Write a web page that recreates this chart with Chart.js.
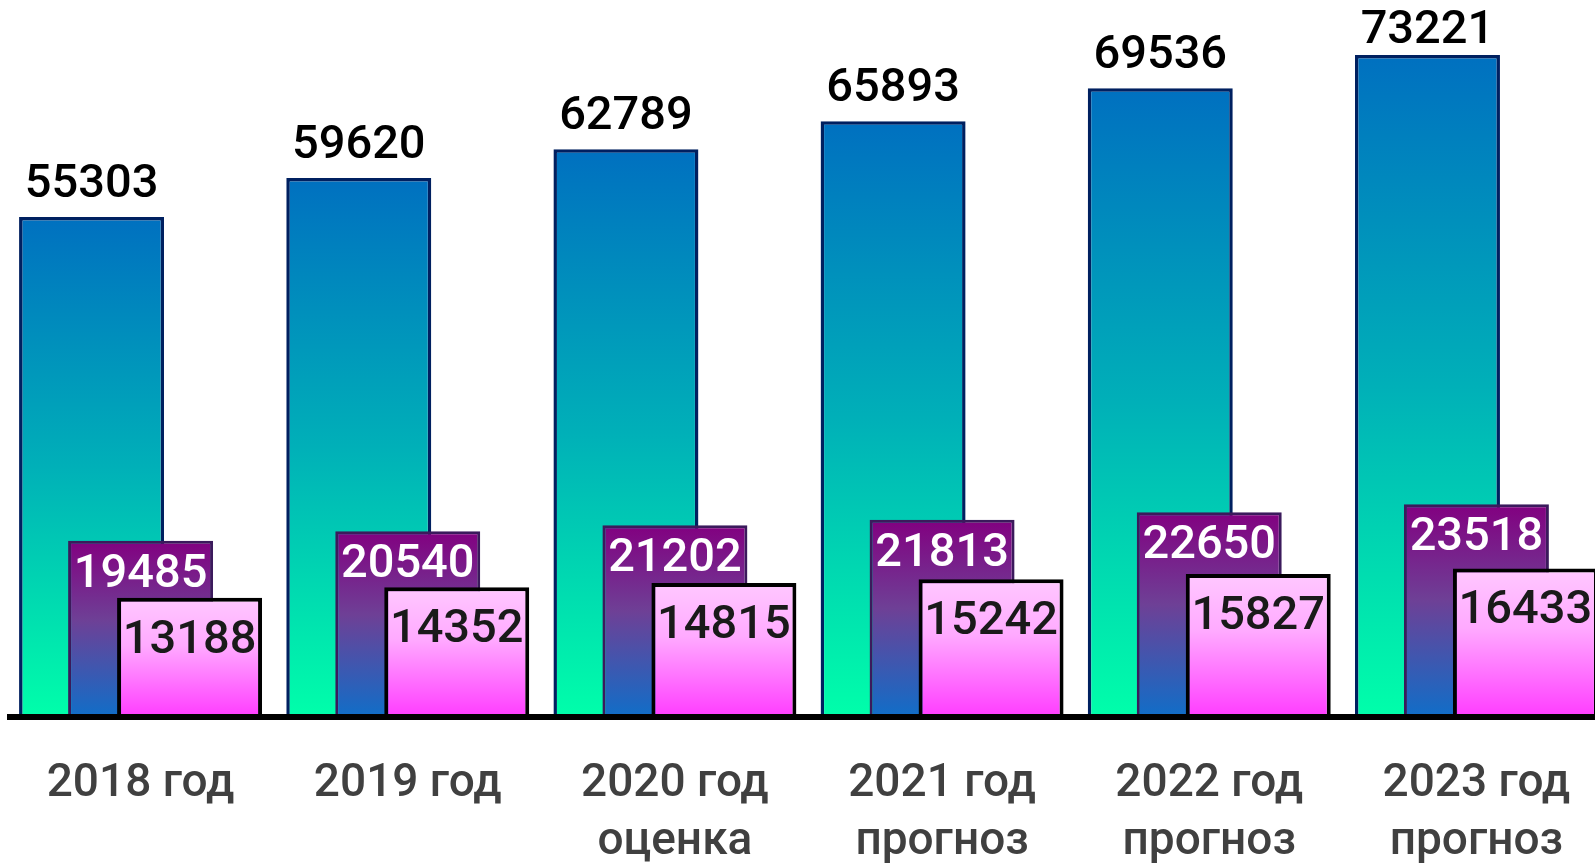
<!DOCTYPE html>
<html>
<head>
<meta charset="utf-8">
<script src="https://cdn.jsdelivr.net/npm/chart.js@4/dist/chart.umd.min.js"></script>
<style>
    html, body { margin: 0; padding: 0; background: #fff; overflow: hidden; }
    #wrap { width: 1612px; height: 864px; }
</style>
</head>
<body>
<div id="wrap"><canvas id="chartCanvas"></canvas></div>
<script>
const years = [
    ['2018 год'],
    ['2019 год'],
    ['2020 год', 'оценка'],
    ['2021 год', 'прогноз'],
    ['2022 год', 'прогноз'],
    ['2023 год', 'прогноз'],
];
const totalValues = [55303, 59620, 62789, 65893, 69536, 73221];
const middleValues = [19485, 20540, 21202, 21813, 22650, 23518];
const smallValues = [13188, 14352, 14815, 15242, 15827, 16433];

const ctx = document.getElementById('chartCanvas').getContext('2d');

// vertical gradient from the top of each bar down to the zero line
function barGradient(c, stops) {
    const chart = c.chart;
    const y = chart.scales.y;
    if (!y || c.type !== 'data') return stops[0][1];
    const top = y.getPixelForValue(c.raw);
    const base = y.getPixelForValue(0);
    if (!isFinite(top) || !isFinite(base) || top === base) return stops[0][1];
    const g = chart.ctx.createLinearGradient(0, top, 0, base);
    stops.forEach(s => g.addColorStop(s[0], s[1]));
    return g;
}

// bars overlap: draw the first dataset first so the next ones sit on top of it,
// then the thick base line over all of them
const drawOrder = {
    id: 'drawOrder',
    beforeDatasetsDraw(chart) {
        chart.getSortedVisibleDatasetMetas().forEach(meta => meta.controller.draw());
        const c = chart.ctx;
        const area = chart.chartArea;
        const y0 = chart.scales.y.getPixelForValue(0);
        c.save();
        c.strokeStyle = '#000';
        c.lineWidth = 6;
        c.beginPath();
        c.moveTo(area.left, y0);
        c.lineTo(chart.width, y0);
        c.stroke();
        c.restore();
        return false;
    }
};

const valueLabels = {
    id: 'valueLabels',
    afterDraw(chart) {
        const c = chart.ctx;
        c.save();
        c.textAlign = 'center';
        c.textBaseline = 'middle';
        c.font = '500 47px Roboto';
        chart.getSortedVisibleDatasetMetas().forEach((meta, i) => {
            const values = chart.data.datasets[meta.index].data;
            meta.data.forEach((bar, j) => {
                let ty;
                if (i === 0) { c.fillStyle = '#000'; ty = Math.max(bar.y - 32, 31); }
                else if (i === 1) { c.fillStyle = '#fff'; ty = bar.y + 34; }
                else { c.fillStyle = '#1a1a1a'; ty = bar.y + 43; }
                c.fillText(String(values[j]), bar.x, ty);
            });
        });
        c.restore();
    }
};

new Chart(ctx, {
    type: 'bar',
    data: {
        labels: years,
        datasets: [{
            data: totalValues,
            backgroundColor: c => barGradient(c, [[0, '#0070C0'], [0.5, '#00B0B8'], [1, '#00FFAA']]),
            borderColor: '#002060',
            borderWidth: 3.5,
        }, {
            data: middleValues,
            backgroundColor: c => barGradient(c, [[0, '#820080'], [0.45, '#6E4096'], [1, '#106EC8']]),
            borderColor: '#3B1A5C',
            borderWidth: 3,
        }, {
            data: smallValues,
            backgroundColor: c => barGradient(c, [[0, '#FFC8FF'], [0.4, '#FFAAFF'], [1, '#FF3CFF']]),
            borderColor: '#000000',
            borderWidth: 4,
        }]
    },
    options: {
        responsive: true,
        maintainAspectRatio: false,
        animation: false,
        categoryPercentage: 0.55,
        barPercentage: 2.96,
        layout: { padding: { left: 7, right: 2, top: 0, bottom: 0 } },
        plugins: {
            legend: { display: false },
            tooltip: { enabled: false },
        },
        scales: {
            x: {
                grid: { display: false },
                border: { display: false },
                ticks: {
                    color: '#404040',
                    font: { family: 'Roboto', size: 46, weight: '500', lineHeight: 1.26 },
                    padding: 31,
                    maxRotation: 0,
                    autoSkip: false,
                },
                afterFit(scale) { scale.height = 147; },
            },
            y: {
                display: false,
                min: 0,
                max: 79300,
            }
        }
    },
    plugins: [drawOrder, valueLabels]
});
</script>
</body>
</html>
